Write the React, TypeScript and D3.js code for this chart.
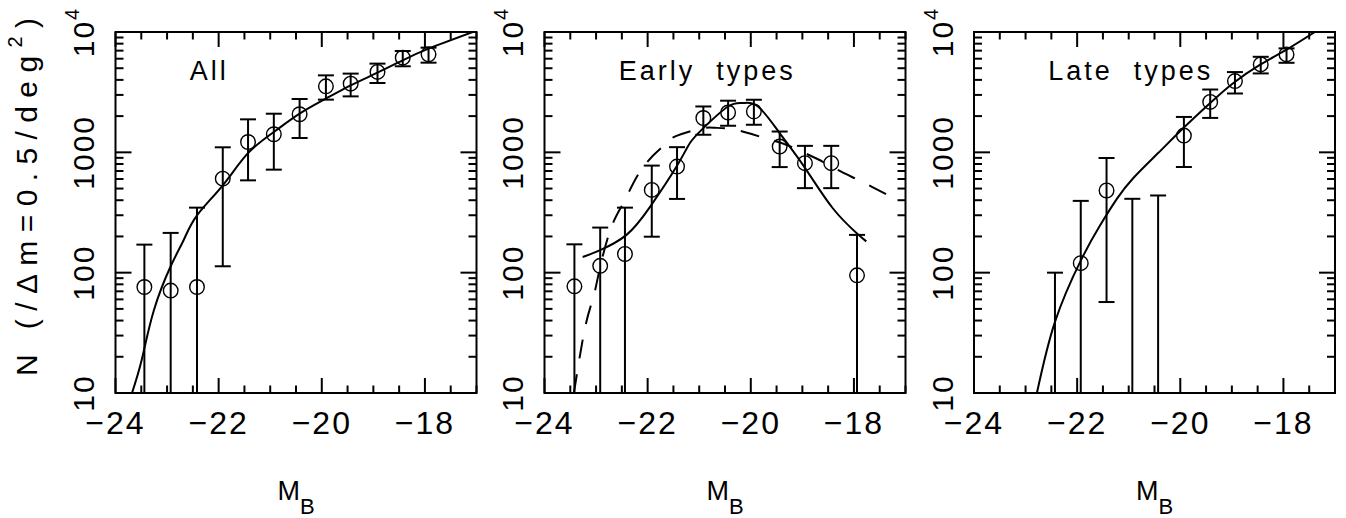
import React from 'react';
import * as d3 from 'd3';

// ---------- axis / tick data ----------
const xDomain = [-24, -17];
const yDomain = [10, 10000];
const xTickValues = [-24, -22, -20, -18];
const xTickLabels = ['\u221224', '\u221222', '\u221220', '\u221218'];
const yTickValues = [10, 100, 1000, 10000];
const yTickLabels = ['10', '100', '1000', '10'];
const yTickExps = ['', '', '', '4'];
const panelTitles = ['All', 'Early  types', 'Late  types'];
const xAxisTitle = 'M';
const xAxisSub = 'B';

// ---------- "All" ----------
const allMag = [-23.44, -22.93, -22.42, -21.92, -21.43, -20.93, -20.43, -19.92, -19.44, -18.92, -18.43, -17.93];
const allN = [76, 71, 76, 604, 1219, 1413, 2072, 3533, 3722, 4656, 6124, 6520];
const allHi = [171, 214, 347, 1101, 1880, 2094, 2774, 4362, 4510, 5460, 6955, 7410];
const allLo = [null, null, null, 113, 585, 718, 1316, 2741, 2918, 3767, 5190, 5560];
const allFitMag = [-23.68, -23.49, -23.26, -22.93, -22.68, -22.42, -21.92, -21.44, -20.93, -20.43, -19.92, -19.44, -18.92, -18.43, -17.93, -17.07];
const allFitN = [10, 19, 48, 113, 186, 299, 532, 975, 1476, 2094, 2793, 3605, 4592, 5820, 7267, 10000];

// ---------- "Early types" ----------
const earlyMag = [-23.42, -22.92, -22.44, -21.92, -21.43, -20.92, -20.44, -19.94, -19.44, -18.95, -18.44, -17.94];
const earlyN = [77, 114, 143, 487, 762, 1928, 2144, 2186, 1117, 813, 813, 95];
const earlyHi = [172, 237, 347, 776, 1104, 2405, 2686, 2735, 1489, 1132, 1132, 206];
const earlyLo = [null, null, null, 199, 410, 1400, 1663, 1695, 754, 504, 504, null];
const earlyFitMag = [-23.26, -22.92, -22.41, -21.95, -21.44, -21.18, -20.92, -20.44, -20.15, -19.86, -19.44, -18.95, -18.41, -17.94, -17.76];
const earlyFitN = [135, 154, 206, 354, 762, 1194, 1590, 2404, 2570, 2404, 1445, 743, 343, 212, 182];
const earlyDashMag = [-23.43, -23.21, -23.05, -22.92, -22.70, -22.44, -22.08, -21.63, -21.44, -20.99, -20.70, -20.37, -20.0, -19.66, -19.31, -18.95, -18.61, -18.34, -17.99, -17.66, -17.31];
const earlyDashN = [10, 35.5, 63, 112, 241, 402, 762, 1194, 1371, 1570, 1600, 1561, 1425, 1288, 1154, 985, 838, 724, 610, 519, 434];

// ---------- "Late types" ----------
const lateMag = [-22.43, -21.93, -21.43, -20.93, -20.43, -19.93, -19.42, -18.94, -18.44, -17.94];
const lateN = [null, 120, 482, null, null, 1377, 2624, 3907, 5379, 6515];
const lateHi = [100, 395, 897, 411, 438, 1968, 3327, 4645, 6223, 7310];
const lateLo = [null, null, 57, null, null, 755, 1932, 3083, 4527, 5547];
const lateFitMag = [-22.78, -22.43, -21.93, -21.56, -21.23, -20.91, -20.43, -19.94, -19.42, -18.97, -18.45, -17.94, -17.39];
const lateFitN = [10, 39, 126, 245, 410, 612, 986, 1592, 2570, 3770, 5350, 7130, 10000];

// ---------- layout ----------
const W = 1346;
const H = 518;
const TOP = 32;
const BOTTOM = 393;
const PANEL_LEFT = [115.5, 544.5, 974];
const PANEL_W = 361;
const FONT = "'Liberation Sans', Arial, Helvetica, sans-serif";

type Fit = { mag: number[]; n: number[]; dash: boolean };
type PanelData = {
  mag: number[];
  n: (number | null)[];
  hi: number[];
  lo: (number | null)[];
  fits: Fit[];
};

const panels: PanelData[] = [
  { mag: allMag, n: allN, hi: allHi, lo: allLo, fits: [{ mag: allFitMag, n: allFitN, dash: false }] },
  {
    mag: earlyMag, n: earlyN, hi: earlyHi, lo: earlyLo,
    fits: [
      { mag: earlyFitMag, n: earlyFitN, dash: false },
      { mag: earlyDashMag, n: earlyDashN, dash: true },
    ],
  },
  { mag: lateMag, n: lateN, hi: lateHi, lo: lateLo, fits: [{ mag: lateFitMag, n: lateFitN, dash: false }] },
];

function Panel({ p, idx }: { p: PanelData; idx: number }) {
  const left = PANEL_LEFT[idx];
  const right = left + PANEL_W;
  const x = d3.scaleLinear().domain(xDomain).range([left, right]);
  const y = d3.scaleLog().domain(yDomain).range([BOTTOM, TOP]);
  const line = d3
    .line<[number, number]>()
    .x((d) => x(d[0]))
    .y((d) => y(d[1]))
    .curve(d3.curveNatural);

  const minorX = d3.range(xDomain[0], xDomain[1] + 0.001, 0.5).filter((v) => !xTickValues.includes(v));
  const minorY: number[] = [];
  [10, 100, 1000].forEach((dec) => {
    for (let k = 2; k <= 9; k++) minorY.push(k * dec);
  });
  const clipId = `clip${idx}`;
  const cap = 8;
  const sw = 2;

  return (
    <g>
      <defs>
        <clipPath id={clipId}>
          <rect x={left} y={TOP} width={PANEL_W} height={BOTTOM - TOP} />
        </clipPath>
      </defs>
      {/* ticks x */}
      {xTickValues.map((v) => (
        <g key={'xM' + v}>
          <line x1={x(v)} x2={x(v)} y1={BOTTOM} y2={BOTTOM - 15} stroke="#000" strokeWidth={sw} />
          <line x1={x(v)} x2={x(v)} y1={TOP} y2={TOP + 15} stroke="#000" strokeWidth={sw} />
        </g>
      ))}
      {minorX.map((v) => (
        <g key={'xm' + v}>
          <line x1={x(v)} x2={x(v)} y1={BOTTOM} y2={BOTTOM - 7.5} stroke="#000" strokeWidth={sw} />
          <line x1={x(v)} x2={x(v)} y1={TOP} y2={TOP + 7.5} stroke="#000" strokeWidth={sw} />
        </g>
      ))}
      {/* ticks y */}
      {yTickValues.map((v) => (
        <g key={'yM' + v}>
          <line x1={left} x2={left + 16} y1={y(v)} y2={y(v)} stroke="#000" strokeWidth={sw} />
          <line x1={right} x2={right - 16} y1={y(v)} y2={y(v)} stroke="#000" strokeWidth={sw} />
        </g>
      ))}
      {minorY.map((v) => (
        <g key={'ym' + v}>
          <line x1={left} x2={left + 8} y1={y(v)} y2={y(v)} stroke="#000" strokeWidth={sw} />
          <line x1={right} x2={right - 8} y1={y(v)} y2={y(v)} stroke="#000" strokeWidth={sw} />
        </g>
      ))}
      {/* frame */}
      <rect x={left} y={TOP} width={PANEL_W} height={BOTTOM - TOP} fill="none" stroke="#000" strokeWidth={sw} />

      {/* error bars */}
      {p.mag.map((m, i) => {
        const xi = x(m);
        const yHi = y(p.hi[i]);
        const lo = p.lo[i];
        const yLo = lo == null ? BOTTOM : y(lo);
        return (
          <g key={'eb' + i}>
            <line x1={xi} x2={xi} y1={yLo} y2={yHi} stroke="#000" strokeWidth={sw} />
            <line x1={xi - cap} x2={xi + cap} y1={yHi} y2={yHi} stroke="#000" strokeWidth={sw} />
            {lo != null && <line x1={xi - cap} x2={xi + cap} y1={yLo} y2={yLo} stroke="#000" strokeWidth={sw} />}
          </g>
        );
      })}
      {/* points */}
      {p.mag.map((m, i) => {
        const v = p.n[i];
        if (v == null) return null;
        return <circle key={'pt' + i} cx={x(m)} cy={y(v)} r={7.3} fill="none" stroke="#000" strokeWidth={1.4} />;
      })}
      {/* fits */}
      <g clipPath={`url(#${clipId})`}>
        {p.fits.map((f, k) => (
          <path
            key={'fit' + k}
            d={line(f.mag.map((m, i) => [m, f.n[i]] as [number, number])) || ''}
            fill="none"
            stroke="#000"
            strokeWidth={2}
            strokeDasharray={f.dash ? '19 16' : undefined}
          />
        ))}
      </g>

      {/* title */}
      <text
        x={x(-22.56)}
        y={80}
        fontFamily={FONT}
        fontSize={27}
        letterSpacing={3}
        style={{ whiteSpace: 'pre' }}
      >
        {panelTitles[idx]}
      </text>

      {/* x tick labels */}
      {xTickValues.map((v, i) => (
        <text key={'xl' + v} x={x(v)} y={434} textAnchor="middle" fontFamily={FONT} fontSize={32} letterSpacing={2}>
          {xTickLabels[i]}
        </text>
      ))}
      {/* y tick labels */}
      {yTickValues.map((v, i) => (
        <text
          key={'yl' + v}
          transform={`translate(${left - 21.5},${y(v)}) rotate(-90)`}
          textAnchor="middle"
          fontFamily={FONT}
          fontSize={30}
          letterSpacing={2}
        >
          {yTickLabels[i]}
          {yTickExps[i] && (
            <tspan fontSize={20} dy={-15}>
              {yTickExps[i]}
            </tspan>
          )}
        </text>
      ))}
      {/* x axis title */}
      <text x={(left + right) / 2} y={500} textAnchor="middle" fontFamily={FONT} fontSize={27}>
        {xAxisTitle}
        <tspan fontSize={22} dy={14}>
          {xAxisSub}
        </tspan>
      </text>
    </g>
  );
}

export default function App() {
  return (
    <svg
      width={W}
      height={H}
      viewBox={`0 0 ${W} ${H}`}
      style={{ position: 'absolute', left: 0, top: 0, background: '#fff' }}
    >
      <rect x={0} y={0} width={W} height={H} fill="#fff" />
      {panels.map((p, i) => (
        <Panel key={i} p={p} idx={i} />
      ))}
      <text
        transform={`translate(37,197) rotate(-90)`}
        textAnchor="middle"
        fontFamily={FONT}
        fontSize={30}
        textLength={358}
        lengthAdjust="spacing"
        style={{ whiteSpace: 'pre' }}
      >
        {'N (/\u0394m=0.5/deg'}
        <tspan fontSize={20} dy={-15}>
          2
        </tspan>
        <tspan dy={15}>)</tspan>
      </text>
    </svg>
  );
}
